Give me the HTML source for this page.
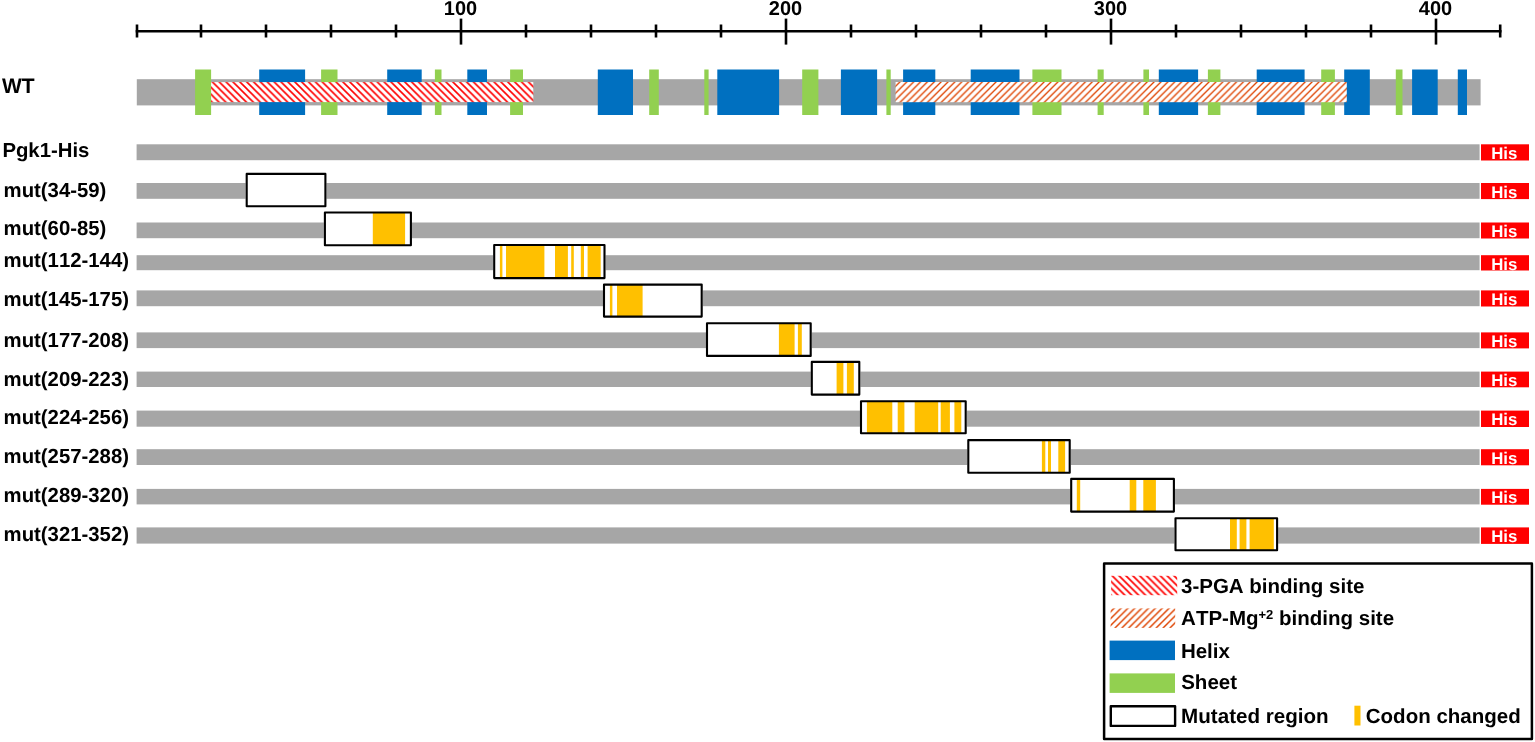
<!DOCTYPE html>
<html lang="en"><head><meta charset="utf-8"><title>Pgk1 mutants</title>
<style>html,body{margin:0;padding:0;background:#fff}body{width:1535px;height:742px;overflow:hidden}svg{display:block}text{font-family:"Liberation Sans",Arial,sans-serif;font-weight:bold;fill:#000;font-kerning:none;text-rendering:geometricPrecision}</style></head><body>
<svg width="1535" height="742" viewBox="0 0 1535 742">
<defs>
<pattern id="hr" width="6.87" height="6.87" patternUnits="userSpaceOnUse" patternTransform="translate(212.6,82.1)"><rect width="6.87" height="6.87" fill="#fff"/><path d="M-1.5,-1.5 L8.37,8.37 M-1.5,5.37 L1.5,8.37 M5.37,-1.5 L8.37,1.5" stroke="#ff0000" stroke-width="1.6"/></pattern>
<pattern id="ho" width="6.87" height="6.87" patternUnits="userSpaceOnUse" patternTransform="translate(892.9,82)"><rect width="6.87" height="6.87" fill="#fff"/><path d="M-1.5,8.37 L8.37,-1.5 M-1.5,1.5 L1.5,-1.5 M5.37,8.37 L8.37,5.37" stroke="#de4300" stroke-width="1.35"/></pattern>
<pattern id="hr2" width="6.87" height="6.87" patternUnits="userSpaceOnUse" patternTransform="translate(1112.3,575.8)"><rect width="6.87" height="6.87" fill="#fff"/><path d="M-1.5,-1.5 L8.37,8.37 M-1.5,5.37 L1.5,8.37 M5.37,-1.5 L8.37,1.5" stroke="#ff0000" stroke-width="1.7"/></pattern>
<pattern id="ho2" width="6.87" height="6.87" patternUnits="userSpaceOnUse" patternTransform="translate(1107.1,608.4)"><rect width="6.87" height="6.87" fill="#fff"/><path d="M-1.5,8.37 L8.37,-1.5 M-1.5,1.5 L1.5,-1.5 M5.37,8.37 L8.37,5.37" stroke="#de4300" stroke-width="1.4"/></pattern>
</defs>
<rect width="1535" height="742" fill="#fff"/>
<g stroke="#000" stroke-width="2.6" fill="none">
<line x1="135.7" y1="31.3" x2="1501.5" y2="31.3"/>
<line x1="137.0" y1="24.5" x2="137.0" y2="37.5"/>
<line x1="201.0" y1="24.5" x2="201.0" y2="37.5"/>
<line x1="266.0" y1="24.5" x2="266.0" y2="37.5"/>
<line x1="331.0" y1="24.5" x2="331.0" y2="37.5"/>
<line x1="396.0" y1="24.5" x2="396.0" y2="37.5"/>
<line x1="461.0" y1="18.6" x2="461.0" y2="44.6"/>
<line x1="526.0" y1="24.5" x2="526.0" y2="37.5"/>
<line x1="591.0" y1="24.5" x2="591.0" y2="37.5"/>
<line x1="656.0" y1="24.5" x2="656.0" y2="37.5"/>
<line x1="721.0" y1="24.5" x2="721.0" y2="37.5"/>
<line x1="786.0" y1="18.6" x2="786.0" y2="44.6"/>
<line x1="851.0" y1="24.5" x2="851.0" y2="37.5"/>
<line x1="916.0" y1="24.5" x2="916.0" y2="37.5"/>
<line x1="981.0" y1="24.5" x2="981.0" y2="37.5"/>
<line x1="1046.0" y1="24.5" x2="1046.0" y2="37.5"/>
<line x1="1111.0" y1="18.6" x2="1111.0" y2="44.6"/>
<line x1="1176.0" y1="24.5" x2="1176.0" y2="37.5"/>
<line x1="1241.0" y1="24.5" x2="1241.0" y2="37.5"/>
<line x1="1306.0" y1="24.5" x2="1306.0" y2="37.5"/>
<line x1="1371.0" y1="24.5" x2="1371.0" y2="37.5"/>
<line x1="1436.0" y1="18.6" x2="1436.0" y2="44.6"/>
<line x1="1500.2" y1="24.5" x2="1500.2" y2="37.5"/>
</g>
<text x="460.5" y="15.1" font-size="20" text-anchor="middle">100</text>
<text x="785.5" y="15.1" font-size="20" text-anchor="middle">200</text>
<text x="1110.5" y="15.1" font-size="20" text-anchor="middle">300</text>
<text x="1435.5" y="15.1" font-size="20" text-anchor="middle">400</text>
<text x="1.9" y="92.8" font-size="21">WT</text>
<rect x="136.8" y="79.2" width="1343.8" height="26.2" fill="#a6a6a6"/>
<rect x="195.1" y="69.5" width="16.0" height="45.5" fill="#92d050"/>
<rect x="321.1" y="69.5" width="16.4" height="45.5" fill="#92d050"/>
<rect x="434.9" y="69.5" width="6.6" height="45.5" fill="#92d050"/>
<rect x="510.1" y="69.5" width="12.9" height="45.5" fill="#92d050"/>
<rect x="649.2" y="69.5" width="9.6" height="45.5" fill="#92d050"/>
<rect x="704.3" y="69.5" width="4.3" height="45.5" fill="#92d050"/>
<rect x="802.2" y="69.5" width="16.2" height="45.5" fill="#92d050"/>
<rect x="886.4" y="69.5" width="4.3" height="45.5" fill="#92d050"/>
<rect x="1032.4" y="69.5" width="29.1" height="45.5" fill="#92d050"/>
<rect x="1097.6" y="69.5" width="6.1" height="45.5" fill="#92d050"/>
<rect x="1143.4" y="69.5" width="5.6" height="45.5" fill="#92d050"/>
<rect x="1207.9" y="69.5" width="12.5" height="45.5" fill="#92d050"/>
<rect x="1321.2" y="69.5" width="13.7" height="45.5" fill="#92d050"/>
<rect x="1395.8" y="69.5" width="6.7" height="45.5" fill="#92d050"/>
<rect x="259.2" y="69.5" width="45.9" height="45.5" fill="#0070c0"/>
<rect x="387.2" y="69.5" width="34.5" height="45.5" fill="#0070c0"/>
<rect x="467.3" y="69.5" width="19.7" height="45.5" fill="#0070c0"/>
<rect x="597.8" y="69.5" width="35.2" height="45.5" fill="#0070c0"/>
<rect x="717.3" y="69.5" width="61.8" height="45.5" fill="#0070c0"/>
<rect x="840.9" y="69.5" width="36.2" height="45.5" fill="#0070c0"/>
<rect x="903.1" y="69.5" width="32.2" height="45.5" fill="#0070c0"/>
<rect x="970.7" y="69.5" width="48.8" height="45.5" fill="#0070c0"/>
<rect x="1158.8" y="69.5" width="39.3" height="45.5" fill="#0070c0"/>
<rect x="1256.7" y="69.5" width="47.9" height="45.5" fill="#0070c0"/>
<rect x="1344.2" y="69.5" width="25.6" height="45.5" fill="#0070c0"/>
<rect x="1412.1" y="69.5" width="25.6" height="45.5" fill="#0070c0"/>
<rect x="1457.8" y="69.5" width="9.2" height="45.5" fill="#0070c0"/>
<rect x="211.1" y="82.1" width="322.2" height="20" fill="url(#hr)"/>
<rect x="895.6" y="82.0" width="451.2" height="20.2" fill="url(#ho)"/>
<rect x="136.6" y="144.3" width="1343" height="15.9" fill="#a6a6a6"/>
<rect x="1481" y="144.3" width="48" height="16.2" fill="#ff0000"/>
<text x="1504.3" y="159.1" font-size="16.8" text-anchor="middle" style="fill:#fff">His</text>
<text x="2.4" y="156.9" font-size="20.33">Pgk1-His</text>
<rect x="136.6" y="183.0" width="1343" height="15.8" fill="#a6a6a6"/>
<rect x="1481" y="183.0" width="48" height="16.1" fill="#ff0000"/>
<text x="1504.3" y="197.7" font-size="16.8" text-anchor="middle" style="fill:#fff">His</text>
<text x="3.6" y="197.0" font-size="20.33">mut(34-59)</text>
<rect x="245.6" y="172.8" width="80.8" height="34.4" fill="#fff"/>
<rect x="246.7" y="173.9" width="78.7" height="32.3" fill="none" stroke="#000" stroke-width="2.1" stroke-linejoin="round"/>
<rect x="136.6" y="222.5" width="1343" height="15.7" fill="#a6a6a6"/>
<rect x="1481" y="222.5" width="48" height="16.0" fill="#ff0000"/>
<text x="1504.3" y="237.2" font-size="16.8" text-anchor="middle" style="fill:#fff">His</text>
<text x="3.6" y="235.2" font-size="20.33">mut(60-85)</text>
<rect x="323.8" y="211.4" width="88.1" height="34.9" fill="#fff"/>
<rect x="372.8" y="212.4" width="32.3" height="32.9" fill="#ffc000"/>
<rect x="324.9" y="212.5" width="86.0" height="32.8" fill="none" stroke="#000" stroke-width="2.1" stroke-linejoin="round"/>
<rect x="136.6" y="255.2" width="1343" height="15.0" fill="#a6a6a6"/>
<rect x="1481" y="255.2" width="48" height="15.3" fill="#ff0000"/>
<text x="1504.3" y="269.5" font-size="16.8" text-anchor="middle" style="fill:#fff">His</text>
<text x="3.6" y="267.0" font-size="20.33">mut(112-144)</text>
<rect x="493.1" y="243.9" width="112.4" height="35.2" fill="#fff"/>
<rect x="499.9" y="244.9" width="2.5" height="33.2" fill="#ffc000"/>
<rect x="506.0" y="244.9" width="38.4" height="33.2" fill="#ffc000"/>
<rect x="555.0" y="244.9" width="12.9" height="33.2" fill="#ffc000"/>
<rect x="571.2" y="244.9" width="2.6" height="33.2" fill="#ffc000"/>
<rect x="580.8" y="244.9" width="3.2" height="33.2" fill="#ffc000"/>
<rect x="587.6" y="244.9" width="13.1" height="33.2" fill="#ffc000"/>
<rect x="494.2" y="245.0" width="110.3" height="33.1" fill="none" stroke="#000" stroke-width="2.1" stroke-linejoin="round"/>
<rect x="136.6" y="290.4" width="1343" height="15.8" fill="#a6a6a6"/>
<rect x="1481" y="290.4" width="48" height="16.1" fill="#ff0000"/>
<text x="1504.3" y="305.1" font-size="16.8" text-anchor="middle" style="fill:#fff">His</text>
<text x="3.6" y="305.6" font-size="20.33">mut(145-175)</text>
<rect x="603.0" y="283.5" width="99.8" height="34.1" fill="#fff"/>
<rect x="609.9" y="284.5" width="2.5" height="32.1" fill="#ffc000"/>
<rect x="617.0" y="284.5" width="25.6" height="32.1" fill="#ffc000"/>
<rect x="604.0" y="284.6" width="97.7" height="32.0" fill="none" stroke="#000" stroke-width="2.1" stroke-linejoin="round"/>
<rect x="136.6" y="332.4" width="1343" height="15.7" fill="#a6a6a6"/>
<rect x="1481" y="332.4" width="48" height="16.0" fill="#ff0000"/>
<text x="1504.3" y="347.1" font-size="16.8" text-anchor="middle" style="fill:#fff">His</text>
<text x="3.6" y="347.2" font-size="20.33">mut(177-208)</text>
<rect x="706.0" y="322.1" width="105.8" height="34.8" fill="#fff"/>
<rect x="778.9" y="323.1" width="15.7" height="32.8" fill="#ffc000"/>
<rect x="797.9" y="323.1" width="3.9" height="32.8" fill="#ffc000"/>
<rect x="707.0" y="323.2" width="103.7" height="32.7" fill="none" stroke="#000" stroke-width="2.1" stroke-linejoin="round"/>
<rect x="136.6" y="371.6" width="1343" height="15.4" fill="#a6a6a6"/>
<rect x="1481" y="371.6" width="48" height="15.7" fill="#ff0000"/>
<text x="1504.3" y="386.1" font-size="16.8" text-anchor="middle" style="fill:#fff">His</text>
<text x="3.6" y="385.6" font-size="20.33">mut(209-223)</text>
<rect x="810.8" y="360.8" width="49.6" height="34.8" fill="#fff"/>
<rect x="836.6" y="361.8" width="6.8" height="32.8" fill="#ffc000"/>
<rect x="846.9" y="361.8" width="6.9" height="32.8" fill="#ffc000"/>
<rect x="811.8" y="361.9" width="47.5" height="32.7" fill="none" stroke="#000" stroke-width="2.1" stroke-linejoin="round"/>
<rect x="136.6" y="410.6" width="1343" height="16.1" fill="#a6a6a6"/>
<rect x="1481" y="410.6" width="48" height="16.4" fill="#ff0000"/>
<text x="1504.3" y="425.4" font-size="16.8" text-anchor="middle" style="fill:#fff">His</text>
<text x="3.6" y="423.9" font-size="20.33">mut(224-256)</text>
<rect x="860.0" y="400.2" width="106.8" height="34.1" fill="#fff"/>
<rect x="866.9" y="401.2" width="25.4" height="32.1" fill="#ffc000"/>
<rect x="897.7" y="401.2" width="6.7" height="32.1" fill="#ffc000"/>
<rect x="914.7" y="401.2" width="23.5" height="32.1" fill="#ffc000"/>
<rect x="940.7" y="401.2" width="9.2" height="32.1" fill="#ffc000"/>
<rect x="954.4" y="401.2" width="6.9" height="32.1" fill="#ffc000"/>
<rect x="861.0" y="401.2" width="104.7" height="32.0" fill="none" stroke="#000" stroke-width="2.1" stroke-linejoin="round"/>
<rect x="136.6" y="449.2" width="1343" height="15.8" fill="#a6a6a6"/>
<rect x="1481" y="449.2" width="48" height="16.1" fill="#ff0000"/>
<text x="1504.3" y="463.9" font-size="16.8" text-anchor="middle" style="fill:#fff">His</text>
<text x="3.6" y="462.5" font-size="20.33">mut(257-288)</text>
<rect x="967.3" y="439.0" width="103.5" height="34.7" fill="#fff"/>
<rect x="1041.9" y="440.0" width="3.4" height="32.7" fill="#ffc000"/>
<rect x="1048.0" y="440.0" width="3.0" height="32.7" fill="#ffc000"/>
<rect x="1058.3" y="440.0" width="6.8" height="32.7" fill="#ffc000"/>
<rect x="968.3" y="440.1" width="101.4" height="32.6" fill="none" stroke="#000" stroke-width="2.1" stroke-linejoin="round"/>
<rect x="136.6" y="488.9" width="1343" height="15.5" fill="#a6a6a6"/>
<rect x="1481" y="488.9" width="48" height="15.8" fill="#ff0000"/>
<text x="1504.3" y="503.4" font-size="16.8" text-anchor="middle" style="fill:#fff">His</text>
<text x="3.6" y="502.1" font-size="20.33">mut(289-320)</text>
<rect x="1070.2" y="477.8" width="104.8" height="34.8" fill="#fff"/>
<rect x="1076.8" y="478.8" width="3.4" height="32.8" fill="#ffc000"/>
<rect x="1129.7" y="478.8" width="6.6" height="32.8" fill="#ffc000"/>
<rect x="1143.3" y="478.8" width="12.6" height="32.8" fill="#ffc000"/>
<rect x="1071.2" y="478.9" width="102.7" height="32.7" fill="none" stroke="#000" stroke-width="2.1" stroke-linejoin="round"/>
<rect x="136.6" y="527.4" width="1343" height="16.2" fill="#a6a6a6"/>
<rect x="1481" y="527.4" width="48" height="16.5" fill="#ff0000"/>
<text x="1504.3" y="542.3" font-size="16.8" text-anchor="middle" style="fill:#fff">His</text>
<text x="3.6" y="540.9" font-size="20.33">mut(321-352)</text>
<rect x="1174.4" y="517.2" width="103.7" height="34.2" fill="#fff"/>
<rect x="1230.0" y="518.2" width="6.8" height="32.2" fill="#ffc000"/>
<rect x="1239.6" y="518.2" width="6.8" height="32.2" fill="#ffc000"/>
<rect x="1249.6" y="518.2" width="24.2" height="32.2" fill="#ffc000"/>
<rect x="1175.5" y="518.2" width="101.6" height="32.1" fill="none" stroke="#000" stroke-width="2.1" stroke-linejoin="round"/>
<rect x="1104.1" y="563.5" width="427.8" height="175.5" fill="#fff" stroke="#000" stroke-width="2.5" stroke-linejoin="round"/>
<rect x="1111.1" y="575.8" width="66.1" height="19.4" fill="url(#hr2)"/>
<rect x="1110.6" y="608.4" width="64.6" height="19.5" fill="url(#ho2)"/>
<rect x="1109.6" y="640.6" width="65.4" height="19.5" fill="#0070c0"/>
<rect x="1109.6" y="673.4" width="65.4" height="19.5" fill="#92d050"/>
<rect x="1110.8" y="706.2" width="64.3" height="19.7" fill="#fff" stroke="#000" stroke-width="2.4" stroke-linejoin="round"/>
<rect x="1354.4" y="705.7" width="6.1" height="19.8" fill="#ffc000"/>
<text x="1181" y="592.7" font-size="20.5">3-PGA binding site</text>
<text x="1181.1" y="625.0" font-size="20.5">ATP-Mg<tspan font-size="13" dy="-6.3">+2</tspan><tspan dy="6.3"> binding site</tspan></text>
<text x="1180.9" y="657.5" font-size="20.5">Helix</text>
<text x="1181.2" y="689.0" font-size="20.5">Sheet</text>
<text x="1181.1" y="722.5" font-size="20.6">Mutated region</text>
<text x="1365.8" y="722.5" font-size="20.5">Codon changed</text>
</svg></body></html>
